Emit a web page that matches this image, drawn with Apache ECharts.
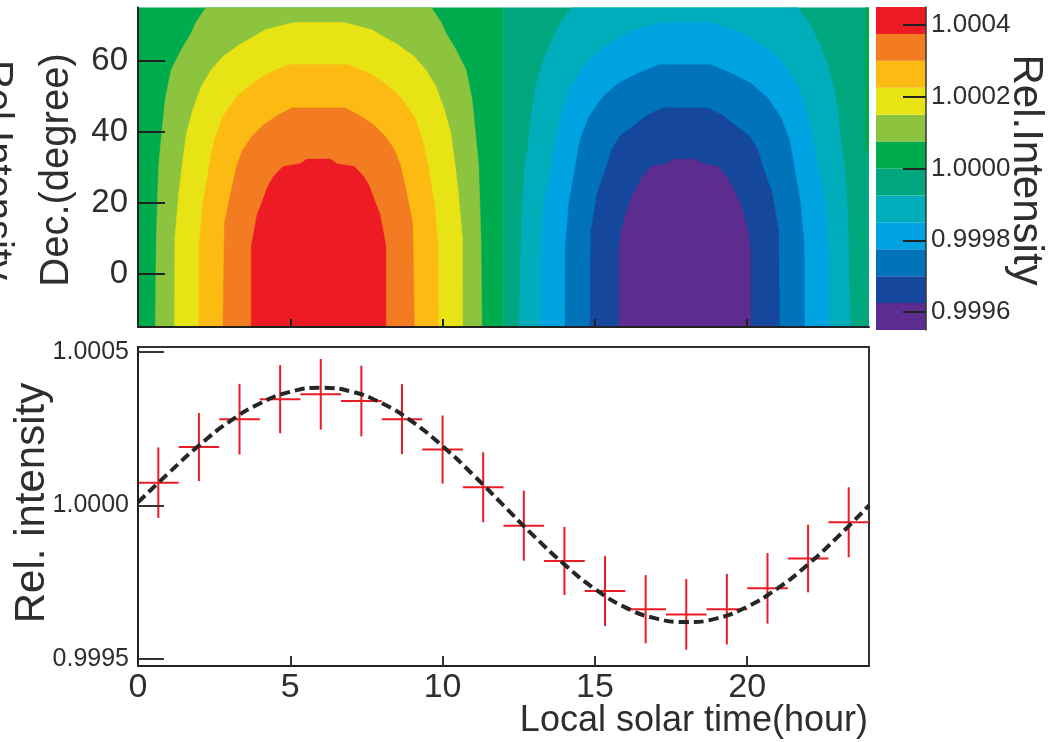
<!DOCTYPE html>
<html>
<head>
<meta charset="utf-8">
<script src="https://cdn.jsdelivr.net/npm/echarts@6/dist/echarts.min.js"></script>
<style>
html,body{margin:0;padding:0;background:#fff;}
#chart{width:1048px;height:742px;}
</style>
</head>
<body>
<div id="chart"></div>
<script>
//下图：各时间段相对强度（误差棒）
var binCenters = [0.667, 2, 3.333, 4.667, 6, 7.333, 8.667, 10, 11.333, 12.667, 14, 15.333, 16.667, 18, 19.333, 20.667, 22, 23.333];
var binHalf = 0.667;
var relInt = [1.000074, 1.000190, 1.000281, 1.000346, 1.000362, 1.000340, 1.000281, 1.000182, 1.000059,
	0.999934, 0.999819, 0.999721, 0.999662, 0.999645, 0.999662, 0.999730, 0.999827, 0.999945];
var relErr = [0.000115, 0.000111, 0.000115, 0.000111, 0.000115, 0.000115, 0.000114, 0.000111, 0.000114,
	0.000114, 0.000111, 0.000114, 0.000111, 0.000115, 0.000115, 0.000115, 0.000110, 0.000114];
//拟合曲线（虚线），每小时读数
var fitHours = [0, 1, 2, 3, 4, 5, 6, 7, 8, 9, 10, 11, 12, 13, 14, 15, 16, 17, 18, 19, 20, 21, 22, 23, 24];
var fitCurve = [1.000010, 1.000105, 1.000195, 1.000273, 1.000332, 1.000370, 1.000383, 1.000371, 1.000333,
	1.000273, 1.000193, 1.000100, 1.000000, 0.999900, 0.999808, 0.999728, 0.999668, 0.999632, 0.999620,
	0.999632, 0.999670, 0.999730, 0.999808, 0.999900, 1.000000];

//刻度
var hourTicks = [0, 5, 10, 15, 20];
var decTicks = [0, 20, 40, 60];
var intTicks = [0.9995, 1.0000, 1.0005];
var barTicks = [0.9996, 0.9998, 1.0000, 1.0002, 1.0004];

//色标分档
var bandEdges = [0.99955, 0.999625, 0.9997, 0.999775, 0.99985, 0.999925, 1.0, 1.000075, 1.00015, 1.000225, 1.0003, 1.000375, 1.00045];
var bandColors = ['#5c2d8f', '#15489d', '#0073ba', '#00a3e2', '#00adbb', '#00a67e',
	'#00ab4e', '#8dc43f', '#e8e314', '#fdba12', '#f37b21', '#ed1c24'];

//上图：等值线边界 [赤纬, 半宽(小时)]，从上到下
var leftCenter = 5.93, rightCenter = 17.95;
var ygArc = [[75.5,3.66],[70.6,4.04],[67.8,4.18],[63.1,4.51],[57.5,4.84],[49.0,5.04],[39.6,5.15],[30.7,5.25],[10,5.33],[-15,5.36]];
var ylArc = [[70.8,0.82],[68.7,1.75],[66.4,2.21],[64.5,2.60],[61.2,3.14],[57.5,3.52],[52.8,3.85],[46.2,4.13],[39.6,4.34],[30.7,4.48],[22.7,4.59],[10,4.72],[-15,4.73]];
var amArc = [[58.9,0.98],[56.5,1.64],[53.7,2.16],[49.9,2.68],[44.3,3.14],[37.7,3.42],[30.7,3.58],[20,3.80],[8,3.92],[-15,3.93]];
var orArc = [[46.7,0.87],[44.8,1.31],[42.0,1.80],[38.7,2.19],[34.9,2.49],[30.7,2.68],[24.6,2.84],[14.3,3.09],[-15,3.14]];
var rdArc = [[32.3,0.38],[31.0,0.60],[30.2,1.17],[27.4,1.48],[24.6,1.67],[20.8,1.83],[16.6,2.02],[11.5,2.13],[7.7,2.21],[-15,2.21]];
var tlArc = [[75.5,3.66],[70.6,4.10],[67.8,4.26],[63.1,4.51],[58.4,4.71],[51.8,4.92],[44.3,5.05],[34.9,5.16],[30.7,5.25],[15,5.36],[-15,5.44]];
var lbArc = [[70.8,0.74],[68.7,1.64],[66.4,2.16],[64.1,2.60],[61.0,3.06],[57.0,3.44],[52.8,3.72],[46.2,4.02],[37.7,4.23],[30.7,4.37],[19.9,4.63],[5,4.72],[-15,4.73]];
var blArc = [[58.9,0.85],[56.5,1.53],[53.7,2.16],[49.9,2.68],[44.3,3.14],[37.7,3.44],[30.7,3.58],[20,3.80],[8,3.92],[-15,3.93]];
var dbArc = [[46.7,0.74],[44.8,1.20],[42.0,1.64],[38.7,2.13],[34.9,2.40],[30.7,2.54],[22.7,2.87],[12,3.08],[-15,3.11]];
var ppArc = [[32.3,0.36],[31.0,0.58],[30.2,1.09],[27.4,1.37],[24.6,1.56],[20.8,1.78],[16.6,1.94],[11.5,2.10],[6.8,2.16],[-15,2.16]];
//底色区域及右上角细条
var baseArc = [[75.5,6],[-15,6]];
var edgeArc = [[75.5,0.12],[34.4,0.12]];

var fontFam = 'Liberation Sans, Arial, sans-serif';
var txtColor = '#2e2e2e';

//等值区按绘制顺序排列（外层先画）
var contourList = [
	{center: 6, arc: baseArc, level: 6},
	{center: 18, arc: baseArc, level: 5},
	{center: 24, arc: edgeArc, level: 6},
	{center: leftCenter, arc: ygArc, level: 7},
	{center: leftCenter, arc: ylArc, level: 8},
	{center: leftCenter, arc: amArc, level: 9},
	{center: leftCenter, arc: orArc, level: 10},
	{center: leftCenter, arc: rdArc, level: 11},
	{center: rightCenter, arc: tlArc, level: 4},
	{center: rightCenter, arc: lbArc, level: 3},
	{center: rightCenter, arc: blArc, level: 2},
	{center: rightCenter, arc: dbArc, level: 1},
	{center: rightCenter, arc: ppArc, level: 0}
];

function renderContour(params, api){
	var c = contourList[params.dataIndex];
	var pts = [];
	var i;
	for(i = c.arc.length - 1; i >= 0; i--){
		pts.push(api.coord([c.center - c.arc[i][1], c.arc[i][0]]));
	}
	for(i = 0; i < c.arc.length; i++){
		pts.push(api.coord([c.center + c.arc[i][1], c.arc[i][0]]));
	}
	return {type: 'polygon', shape: {points: pts}, style: {fill: bandColors[c.level], stroke: bandColors[c.level], lineWidth: 0.5}};
}

function renderBand(params, api){
	var lo = api.value(0), hi = api.value(1);
	var p1 = api.coord([0, hi]), p2 = api.coord([1, lo]);
	return {type: 'rect', shape: {x: p1[0], y: p1[1], width: p2[0] - p1[0], height: p2[1] - p1[1]},
		style: {fill: bandColors[params.dataIndex]}};
}

function renderCross(params, api){
	var t = api.value(0), v = api.value(1), e = api.value(2);
	var top = api.coord([t, v + e]), bot = api.coord([t, v - e]);
	var l = api.coord([t - binHalf, v]), r = api.coord([t + binHalf, v]);
	var st = {stroke: '#ec1c24', lineWidth: 2};
	return {type: 'group', children: [
		{type: 'line', shape: {x1: top[0], y1: top[1], x2: bot[0], y2: bot[1]}, style: st},
		{type: 'line', shape: {x1: l[0], y1: l[1], x2: r[0], y2: r[1]}, style: st}
	]};
}

var contourData = [], bandData = [], crossData = [], curveData = [];
for(var i = 0; i < contourList.length; i++) contourData.push([contourList[i].center, contourList[i].arc[0][0]]);
for(var b = 0; b < bandColors.length; b++) bandData.push([bandEdges[b], bandEdges[b + 1]]);
for(var k = 0; k < binCenters.length; k++) crossData.push([binCenters[k], relInt[k], relErr[k]]);
for(var h = 0; h < fitHours.length; h++) curveData.push([fitHours[h], fitCurve[h]]);

function fmt4(v){ return v.toFixed(4); }

var axisLine = {show: true, onZero: false, lineStyle: {color: '#222', width: 2}};

var option = {
	animation: false,
	backgroundColor: '#fff',
	grid: [
		{left: 138, top: 7.5, width: 731, height: 319.5},
		{left: 138, top: 347, width: 731, height: 319, show: true, borderColor: '#333', borderWidth: 2, backgroundColor: 'transparent'},
		{left: 876, top: 7, width: 50, height: 323}
	],
	xAxis: [
		{gridIndex: 0, type: 'value', min: 0, max: 24, z: 5, axisLine: axisLine,
			axisTick: {show: true, inside: true, length: 8, customValues: [5, 10, 15, 20], lineStyle: {color: '#222', width: 2}},
			axisLabel: {show: false}, splitLine: {show: false}},
		{gridIndex: 1, type: 'value', min: 0, max: 24, z: 5, axisLine: axisLine,
			axisTick: {show: true, inside: true, length: 10, customValues: [5, 10, 15, 20], lineStyle: {color: '#333', width: 2}},
			axisLabel: {show: true, customValues: hourTicks, fontSize: 34, margin: 5, color: txtColor, fontFamily: fontFam},
			splitLine: {show: false}},
		{gridIndex: 2, type: 'value', min: 0, max: 1, show: false}
	],
	yAxis: [
		{gridIndex: 0, type: 'value', min: -15, max: 75, z: 5, axisLine: axisLine,
			axisTick: {show: true, inside: true, length: 27, customValues: decTicks, lineStyle: {color: '#222', width: 2}},
			axisLabel: {show: true, customValues: decTicks, fontSize: 33, margin: 10, color: txtColor, fontFamily: fontFam},
			splitLine: {show: false}},
		{gridIndex: 1, type: 'value', min: 0.999477, max: 1.000516, z: 5, axisLine: axisLine,
			axisTick: {show: true, inside: true, length: 26, customValues: intTicks, lineStyle: {color: '#333', width: 2}},
			axisLabel: {show: true, customValues: intTicks, formatter: fmt4, fontSize: 25, margin: 9, color: txtColor, fontFamily: fontFam},
			splitLine: {show: false}},
		{gridIndex: 2, type: 'value', position: 'right', min: 0.99955, max: 1.00045, z: 5,
			axisLine: {show: true, onZero: false, lineStyle: {color: '#333', width: 1.5}},
			axisTick: {show: true, inside: true, length: 23, customValues: barTicks, lineStyle: {color: '#222', width: 2}},
			axisLabel: {show: true, customValues: barTicks, formatter: fmt4, fontSize: 26, margin: 5, color: txtColor, fontFamily: fontFam},
			splitLine: {show: false}}
	],
	series: [
		{type: 'custom', name: 'map', xAxisIndex: 0, yAxisIndex: 0, clip: true, renderItem: renderContour,
			data: contourData, encode: {x: 0, y: 1}, silent: true},
		{type: 'custom', name: 'colorbar', xAxisIndex: 2, yAxisIndex: 2, renderItem: renderBand,
			data: bandData, encode: {y: [0, 1]}, silent: true},
		{type: 'custom', name: 'data', xAxisIndex: 1, yAxisIndex: 1, renderItem: renderCross,
			data: crossData, encode: {x: 0, y: 1}, z: 3},
		{type: 'line', name: 'fit', xAxisIndex: 1, yAxisIndex: 1, data: curveData, smooth: true,
			symbol: 'none', z: 4, lineStyle: {color: '#262626', width: 4, type: [10, 5]}}
	],
	graphic: [
		{type: 'text', x: 57, y: 170, rotation: Math.PI / 2,
			style: {text: 'Dec.(degree)', fontSize: 40, fontFamily: fontFam, fill: txtColor, align: 'center', verticalAlign: 'middle'}},
		{type: 'text', x: 32, y: 503, rotation: Math.PI / 2,
			style: {text: 'Rel. intensity', fontSize: 42, fontFamily: fontFam, fill: txtColor, align: 'center', verticalAlign: 'middle'}},
		{type: 'text', x: 868, y: 721,
			style: {text: 'Local solar time(hour)', fontSize: 36, fontFamily: fontFam, fill: txtColor, align: 'right', verticalAlign: 'middle'}},
		{type: 'text', x: 1026, y: 170, rotation: -Math.PI / 2,
			style: {text: 'Rel.Intensity', fontSize: 42, fontFamily: fontFam, fill: txtColor, align: 'center', verticalAlign: 'middle'}},
		{type: 'text', x: -4, y: 170, rotation: -Math.PI / 2,
			style: {text: 'Rel.Intensity', fontSize: 40, fontFamily: fontFam, fill: txtColor, align: 'center', verticalAlign: 'middle'}}
	]
};

var myChart = echarts.init(document.getElementById('chart'));
myChart.setOption(option);
</script>
</body>
</html>
